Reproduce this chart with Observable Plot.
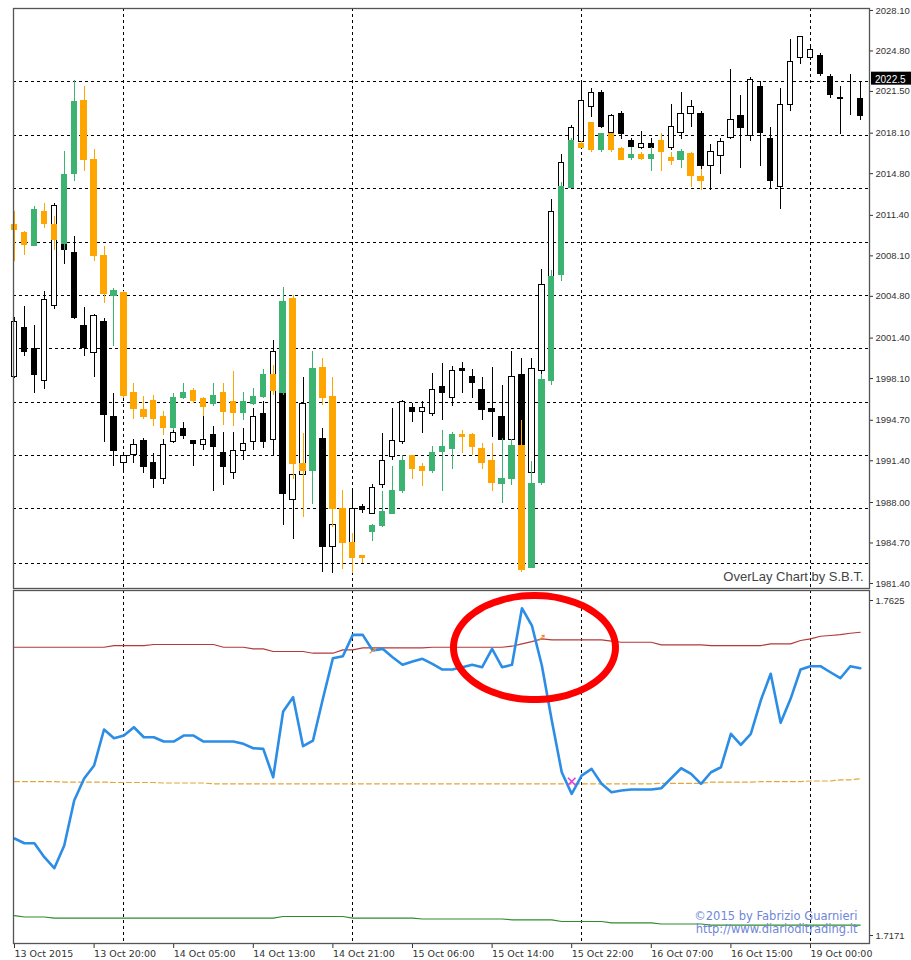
<!DOCTYPE html>
<html><head><meta charset="utf-8">
<script src="https://cdn.jsdelivr.net/npm/d3@7"></script>
<script src="https://cdn.jsdelivr.net/npm/@observablehq/plot@0.6"></script>
<style>
html,body{margin:0;padding:0;background:#fff;overflow:hidden;}
#wrap{position:relative;width:911px;height:960px;overflow:hidden;}
#top{position:absolute;left:0;top:0;}
#bottom{position:absolute;left:0;top:589px;}
</style></head>
<body><div id="wrap"><div id="top"></div><div id="bottom"></div></div>
<script>
// ---------- Main symbol (black / white candles), hourly bars ----------
const mainOpen = [1998.2,2002.2,2000.5,1997.9,2004.0,2009.2,2008.3,2002.4,2000.2,2002.7,
1995.0,1991.2,1991.9,1993.0,1991.2,1989.9,1992.9,1994.0,1993.0,1992.7,
1993.5,1992.0,1990.4,1992.2,1992.9,1995.2,1993.1,1996.9,1988.2,1990.2,
1995.9,1993.2,1984.4,1987.4,1984.7,1987.6,1987.1,1989.4,1991.7,1992.9,
1995.7,1995.4,1995.2,1997.4,1996.5,1998.9,1998.2,1997.2,1995.6,1995.0,
1993.1,1998.4,1990.4,1998.7,2006.4,2013.7,2017.5,2017.4,2020.2,2021.4,
2018.1,2019.7,2017.5,2016.9,2017.2,2016.6,2016.9,2018.1,2019.7,2019.7,
2015.4,2016.2,2017.7,2019.5,2017.9,2021.9,2017.6,2013.7,2020.4,2024.2,
2024.2,2024.4,2022.7,2020.95,2020.9,2020.9];
const mainHigh = [2003.1,2004.0,2002.4,2005.2,2012.4,2009.4,2009.7,2003.9,2003.3,2003.0,
1996.9,1992.1,1993.1,1993.2,1992.0,1993.1,1993.9,1994.5,1993.05,1995.0,
1994.2,1993.7,1993.7,1994.0,1995.7,1996.2,2001.2,1997.1,1990.8,1998.2,
1996.3,1994.0,1986.8,1987.8,1988.9,1987.8,1989.5,1993.6,1995.7,1996.3,
1996.1,1996.2,1998.5,1999.3,1999.1,1999.4,1998.8,1998.2,1999.0,1997.5,
2000.3,1999.7,1999.7,2007.0,2012.7,2016.4,2018.7,2022.3,2021.7,2021.6,
2019.6,2019.9,2017.7,2018.2,2017.7,2018.1,2020.4,2021.4,2020.8,2019.9,
2017.2,2017.7,2023.3,2021.2,2022.6,2022.3,2018.6,2021.7,2025.7,2026.0,
2025.1,2024.6,2022.9,2021.9,2022.9,2022.3];
const mainLow = [1998.1,1999.9,1996.9,1997.2,2003.7,2007.4,2002.9,1999.9,1998.2,1992.9,
1990.9,1990.4,1991.2,1990.4,1989.1,1989.5,1992.8,1993.1,1990.9,1992.2,
1988.9,1989.4,1989.9,1991.4,1992.2,1992.4,1991.8,1986.1,1985.0,1989.8,
1992.6,1982.3,1982.2,1984.5,1984.5,1987.1,1987.0,1989.1,1991.4,1992.7,
1994.5,1993.6,1995.0,1994.7,1995.8,1996.9,1996.5,1994.7,1993.3,1992.9,
1992.9,1992.2,1990.2,1998.4,2006.1,2013.4,2017.3,2017.3,2019.4,2018.5,
2018.0,2017.6,2016.8,2016.8,2016.8,2016.4,2016.7,2017.6,2018.6,2015.0,
2013.4,2014.7,2017.6,2015.2,2017.4,2015.4,2013.6,2011.9,2019.9,2023.7,
2024.0,2022.7,2020.9,2018.0,2019.5,2019.1];
const mainClose = [2002.7,2000.3,1998.4,2004.5,2012.2,2008.6,2003.0,2000.6,2003.2,1995.1,
1992.2,1991.8,1992.7,1990.9,1989.9,1992.7,1993.7,1993.4,1992.8,1993.1,
1992.5,1990.9,1992.2,1992.8,1995.0,1992.9,2000.3,1988.7,1990.2,1996.0,
1993.2,1984.4,1986.2,1984.9,1987.5,1987.4,1989.2,1991.4,1993.0,1996.2,
1995.4,1995.7,1997.2,1996.9,1998.7,1998.7,1997.7,1995.5,1995.4,1993.1,
1998.2,1992.6,1998.9,2005.7,2011.7,2015.7,2018.5,2020.7,2021.4,2018.6,
2019.5,2018.0,2017.0,2017.2,2016.9,2017.5,2018.6,2019.7,2020.2,2015.4,
2016.6,2017.4,2019.2,2018.5,2022.4,2018.1,2014.2,2020.4,2023.9,2025.9,
2024.9,2022.9,2021.2,2020.9,2020.9,2019.5];

// ---------- Overlay symbol (green / orange candles) ----------
const ovOpen = [2010.6,2010.0,2008.9,2011.7,2010.6,2009.1,2014.8,2020.7,2015.9,2008.1,
2004.8,2005.1,1996.9,1995.5,1996.3,1995.0,1994.1,1996.5,1997.1,1996.45,
1996.0,1996.9,1996.2,1995.3,1996.0,1996.6,1998.4,1996.9,2004.6,1991.1,
1990.6,1999.0,1996.6,1987.5,1984.7,1983.6,1985.6,1986.1,1987.1,1988.9,
1991.75,1990.9,1990.6,1992.1,1992.4,1993.5,1993.5,1992.4,1991.4,1989.5,
1989.9,1992.6,1982.7,1989.6,1997.9,2006.5,2013.6,2017.2,2018.9,2016.7,
2018.0,2016.8,2016.1,2016.3,2016.0,2017.5,2016.1,2015.9,2016.4,2014.5];
const ovHigh = [2011.7,2010.05,2012.1,2012.4,2011.3,2016.6,2022.4,2021.9,2016.8,2008.9,
2005.4,2005.2,1997.7,1996.6,1996.7,1995.4,1996.9,1997.7,1997.3,1996.55,
1997.7,1997.7,1998.7,1997.0,1997.3,1998.8,1999.2,2005.5,2004.9,1993.6,
2000.3,1999.7,1998.2,1989.0,1985.5,1983.7,1986.2,1988.9,1990.9,1991.8,
1991.85,1991.2,1992.6,1993.9,1993.7,1993.9,1993.6,1992.8,1992.8,1993.2,
1993.1,1994.7,1991.3,1998.4,2006.9,2014.1,2017.7,2017.4,2019.0,2018.1,
2018.1,2016.9,2016.9,2016.5,2016.9,2018.1,2016.5,2016.8,2016.5,2015.1];
const ovLow = [2007.6,2008.1,2008.85,2010.3,2008.5,2008.5,2014.2,2015.0,2007.6,2004.2,
2000.7,1996.5,1994.8,1994.8,1994.2,1993.5,1993.9,1996.4,1996.1,1995.0,
1995.8,1994.3,1994.2,1994.7,1995.9,1996.5,1996.7,1996.7,1989.9,1986.8,
1987.8,1995.9,1986.0,1982.5,1982.2,1983.0,1984.8,1986.0,1987.0,1988.7,
1989.9,1989.3,1990.4,1988.9,1990.7,1992.0,1991.8,1990.7,1988.9,1987.9,
1989.4,1982.3,1982.6,1989.4,1997.5,2006.0,2013.55,2016.85,2016.5,2016.5,
2016.5,2015.9,2015.9,2015.9,2015.0,2015.0,2015.5,2015.2,2013.7,2013.4];
const ovClose = [2010.2,2009.0,2011.8,2010.7,2009.4,2014.7,2020.6,2015.9,2008.1,2005.0,
2005.2,1996.7,1995.6,1995.0,1994.8,1994.1,1996.5,1996.9,1996.3,1995.8,
1996.7,1995.4,1995.3,1996.2,1996.6,1998.4,1997.1,2004.3,1991.1,1990.6,
1998.9,1996.5,1987.5,1984.7,1983.5,1983.5,1986.1,1987.2,1988.9,1991.4,
1990.7,1990.6,1992.0,1992.5,1993.5,1993.3,1992.5,1991.2,1989.6,1989.9,
1992.6,1982.5,1989.5,1998.0,2006.4,2013.7,2017.5,2016.9,2016.7,2018.0,
2016.7,2015.9,2016.3,2016.0,2016.3,2016.6,2015.8,2016.6,2014.6,2014.2];

// ---------- Indicator window ----------
const indicatorLine = [1.73025,1.72961,1.72961,1.72771,1.72622,1.72930,1.73540,1.73838,1.74014,1.74502,
1.74384,1.74420,1.74533,1.74397,1.74397,1.74339,1.74339,1.74420,1.74420,1.74339,
1.74339,1.74339,1.74339,1.74308,1.74248,1.74240,1.73855,1.74746,1.74940,1.74276,
1.74353,1.74922,1.75468,1.75495,1.75785,1.75785,1.75572,1.75595,1.75482,1.75379,
1.75423,1.75460,1.75392,1.75315,1.75315,1.75346,1.75379,1.75346,1.75595,1.75346,
1.75379,1.76146,1.75911,1.75369,1.74624,1.73923,1.73630,1.73878,1.73969,1.73766,
1.73652,1.73675,1.73689,1.73689,1.73689,1.73706,1.73842,1.73977,1.73901,1.73766,
1.73923,1.73991,1.74444,1.74294,1.74444,1.74895,1.75257,1.74593,1.74918,1.75315,
1.75360,1.75360,1.75278,1.75197,1.75360,1.75333];
const upperBand = [1.75617,1.75617,1.75617,1.75617,1.75617,1.75617,1.75617,1.75617,1.75617,1.75617,
1.75640,1.75640,1.75640,1.75640,1.75654,1.75654,1.75654,1.75654,1.75654,1.75654,
1.75654,1.75617,1.75617,1.75617,1.75595,1.75595,1.75559,1.75559,1.75559,1.75559,
1.75536,1.75536,1.75536,1.75582,1.75582,1.75609,1.75609,1.75609,1.75609,1.75609,
1.75609,1.75609,1.75617,1.75617,1.75617,1.75617,1.75617,1.75617,1.75617,1.75617,
1.75631,1.75663,1.75694,1.75731,1.75717,1.75717,1.75717,1.75717,1.75717,1.75717,
1.75701,1.75685,1.75685,1.75685,1.75685,1.75650,1.75650,1.75650,1.75650,1.75650,
1.75640,1.75640,1.75640,1.75640,1.75640,1.75640,1.75663,1.75663,1.75663,1.75708,
1.75731,1.75766,1.75776,1.75789,1.75807,1.75820];
const middleLevel = [1.73797,1.73797,1.73797,1.73797,1.73797,1.73790,1.73790,1.73790,1.73790,1.73790,
1.73784,1.73784,1.73784,1.73784,1.73784,1.73777,1.73777,1.73777,1.73777,1.73777,
1.73766,1.73766,1.73766,1.73766,1.73766,1.73766,1.73766,1.73766,1.73766,1.73766,
1.73766,1.73766,1.73766,1.73766,1.73766,1.73766,1.73766,1.73766,1.73766,1.73766,
1.73766,1.73766,1.73766,1.73766,1.73766,1.73766,1.73766,1.73766,1.73766,1.73766,
1.73766,1.73766,1.73766,1.73766,1.73766,1.73766,1.73766,1.73766,1.73766,1.73766,
1.73766,1.73766,1.73766,1.73766,1.73766,1.73772,1.73772,1.73772,1.73772,1.73772,
1.73788,1.73788,1.73788,1.73788,1.73788,1.73796,1.73796,1.73796,1.73796,1.73796,
1.73804,1.73804,1.73804,1.73820,1.73820,1.73834];
const lowerBand = [1.71981,1.71961,1.71961,1.71961,1.71945,1.71945,1.71945,1.71945,1.71945,1.71945,
1.71945,1.71945,1.71945,1.71945,1.71945,1.71945,1.71945,1.71945,1.71945,1.71945,
1.71945,1.71945,1.71945,1.71945,1.71945,1.71945,1.71945,1.71968,1.71968,1.71968,
1.71968,1.71968,1.71968,1.71968,1.71945,1.71945,1.71945,1.71945,1.71945,1.71945,
1.71945,1.71934,1.71934,1.71934,1.71934,1.71934,1.71934,1.71934,1.71934,1.71934,
1.71923,1.71923,1.71923,1.71923,1.71923,1.71900,1.71900,1.71900,1.71900,1.71900,
1.71882,1.71882,1.71882,1.71882,1.71882,1.71866,1.71866,1.71866,1.71866,1.71866,
1.71852,1.71852,1.71852,1.71852,1.71852,1.71852,1.71852,1.71852,1.71852,1.71852,
1.71852,1.71852,1.71852,1.71852,1.71852,1.71852];

// signal markers on the indicator (bar index, value)
const upArrowBars = [36, 53];
const upArrowValues = [1.75572, 1.75749];
const crossBars = [56];
const crossValues = [1.73797];

// ---------- Axis / grid definitions ----------
const priceTicks = [2028.1,2024.8,2021.5,2018.1,2014.8,2011.4,2008.1,2004.8,2001.4,1998.1,1994.7,1991.4,1988.0,1984.7,1981.4];
const priceGridLevels = [2022.31,2017.91,2013.57,2009.22,2004.87,2000.53,1996.18,1991.83,1987.49,1983.06];
const indicatorTicks = [1.7625, 1.7171];
const timeTickBars = [0,8,16,24,32,40,48,56,64,72,80];
const timeTickLabels = ["13 Oct 2015","13 Oct 20:00","14 Oct 05:00","14 Oct 13:00","14 Oct 21:00","15 Oct 06:00","15 Oct 14:00","15 Oct 22:00","16 Oct 07:00","16 Oct 15:00","19 Oct 00:00"];
const dayBreakBars = [11, 34, 57, 80];
const lastPriceTag = 2022.5;

// highlight ellipse (data units: bar index / indicator value)
const ellipseCenterBar = 52.26, ellipseRadiusBars = 8.14;
const ellipseCenterValue = 1.75613, ellipseRadiusValue = 0.00705;

// ---------- build tables ----------
const mainBars = mainOpen.map((o, i) => ({i, o, h: mainHigh[i], l: mainLow[i], c: mainClose[i]}));
const ovBars = ovOpen.map((o, i) => ({i, o, h: ovHigh[i], l: ovLow[i], c: ovClose[i]}));
const ind = indicatorLine.map((v, i) => ({i, v, up: upperBand[i], mid: middleLevel[i], low: lowerBand[i]}));
const arrows = upArrowBars.map((b, k) => ({i: b, v: upArrowValues[k]}));
const crosses = crossBars.map((b, k) => ({i: b, v: crossValues[k]}));
const ellipse = d3.range(0, 360, 6).map(a => ({
  i: ellipseCenterBar + ellipseRadiusBars * Math.cos(a * Math.PI / 180),
  v: ellipseCenterValue + ellipseRadiusValue * Math.sin(a * Math.PI / 180)
}));

const GREEN = "#3cb371", ORANGE = "#ffa500";
const xDomain = [-0.1, 85.93];
const baseStyle = {fontFamily: "DejaVu Sans", fontSize: "9.5px", color: "#333", background: "transparent", overflow: "visible"};
const gridStyle = {stroke: "#000", strokeDasharray: "3,3", strokeWidth: 1, shapeRendering: "crispEdges"};
const priceAxisFont = {fontFamily: "Liberation Sans", fontSize: 9.5};
const hw = 0.27;

const topChart = Plot.plot({
  width: 911, height: 589,
  marginLeft: 13, marginRight: 42, marginTop: 8, marginBottom: 1,
  style: baseStyle,
  x: {domain: xDomain, axis: null},
  y: {domain: [1980.99, 2028.26], axis: null},
  marks: [
    Plot.ruleY(priceGridLevels, gridStyle),
    Plot.ruleX(dayBreakBars, gridStyle),
    Plot.ruleX(mainBars, {x: "i", y1: "l", y2: "h", stroke: "#000", strokeWidth: 1, shapeRendering: "crispEdges"}),
    Plot.rect(mainBars, {x1: d => d.i - hw, x2: d => d.i + hw, y1: "o", y2: "c",
      fill: d => d.c >= d.o ? "#fff" : "#000", stroke: "#000", strokeWidth: 1, shapeRendering: "crispEdges"}),
    Plot.ruleX(ovBars, {x: "i", y1: "l", y2: "h", stroke: d => d.c >= d.o ? GREEN : ORANGE, strokeWidth: 1, shapeRendering: "crispEdges"}),
    Plot.rect(ovBars, {x1: d => d.i - hw, x2: d => d.i + hw, y1: "o", y2: "c",
      fill: d => d.c >= d.o ? GREEN : ORANGE, stroke: d => d.c >= d.o ? GREEN : ORANGE, strokeWidth: 1, shapeRendering: "crispEdges"}),
    Plot.axisY({anchor: "right", ticks: priceTicks, tickFormat: d => d.toFixed(2), tickSize: 3, tickPadding: 3, fill: "#333", label: null, ...priceAxisFont}),
    Plot.frame({stroke: "#555", strokeWidth: 1.3}),
    Plot.text(["OverLay Chart by S.B.T."], {frameAnchor: "bottom-right", dx: -6, dy: -8, fontSize: 13, fontFamily: "Liberation Sans", fill: "#444"})
  ]
});
document.getElementById("top").appendChild(topChart);

// current price tag on the right price axis
{
  const ty = topChart.scale("y").apply(lastPriceTag);
  const rx = topChart.scale("x").range[1] + 2;
  const g = d3.select(topChart).append("g");
  g.append("rect").attr("x", rx).attr("y", ty - 7).attr("width", 44).attr("height", 13).attr("fill", "#000");
  g.append("text").attr("x", rx + 4).attr("y", ty + 4).attr("fill", "#fff").attr("text-anchor", "start")
    .style("font-family", "Liberation Sans").style("font-size", "10px").text(lastPriceTag.toFixed(1));
}

const bottomChart = Plot.plot({
  width: 911, height: 371,
  marginLeft: 13, marginRight: 42, marginTop: 1, marginBottom: 17,
  style: baseStyle,
  x: {domain: xDomain},
  y: {domain: [1.71602, 1.76386], axis: null},
  marks: [
    Plot.ruleX(dayBreakBars, gridStyle),
    Plot.line(ind, {x: "i", y: "low", stroke: "#2e8b2e", strokeWidth: 1.2}),
    Plot.line(ind, {x: "i", y: "mid", stroke: "#e2a83a", strokeWidth: 1.2, strokeDasharray: "5,3"}),
    Plot.line(ind, {x: "i", y: "up", stroke: "#b33a3a", strokeWidth: 1.2}),
    Plot.line(ind, {x: "i", y: "v", stroke: "#2b8de6", strokeWidth: 2.6}),
    Plot.text(arrows, {x: "i", y: "v", text: () => "➚", fill: "#f08a1c", fontSize: 11, fontWeight: "bold"}),
    Plot.dot(crosses, {x: "i", y: "v", symbol: "times", stroke: "#e03ce0", r: 3.5, strokeWidth: 1.6}),
    Plot.line(ellipse, {x: "i", y: "v", stroke: "#ff0000", strokeWidth: 7, curve: "catmull-rom-closed"}),
    Plot.axisY({anchor: "right", ticks: indicatorTicks, tickFormat: d => d.toFixed(4), tickSize: 3, tickPadding: 3, fill: "#333", label: null, ...priceAxisFont}),
    Plot.axisX({ticks: timeTickBars, tickFormat: d => timeTickLabels[timeTickBars.indexOf(d)], tickSize: 5, tickPadding: 2, textAnchor: "start", fill: "#333", label: null}),
    Plot.frame({stroke: "#555", strokeWidth: 1.3}),
    Plot.text(["©2015 by Fabrizio Guarnieri"], {frameAnchor: "bottom-right", dx: -12, dy: -24, fontSize: 11.5, fill: "#6f86d8"}),
    Plot.text(["http://www.diarioditrading.it"], {frameAnchor: "bottom-right", dx: -12, dy: -11, fontSize: 11.5, fill: "#6f86d8"})
  ]
});
document.getElementById("bottom").appendChild(bottomChart);
</script>
</body></html>
